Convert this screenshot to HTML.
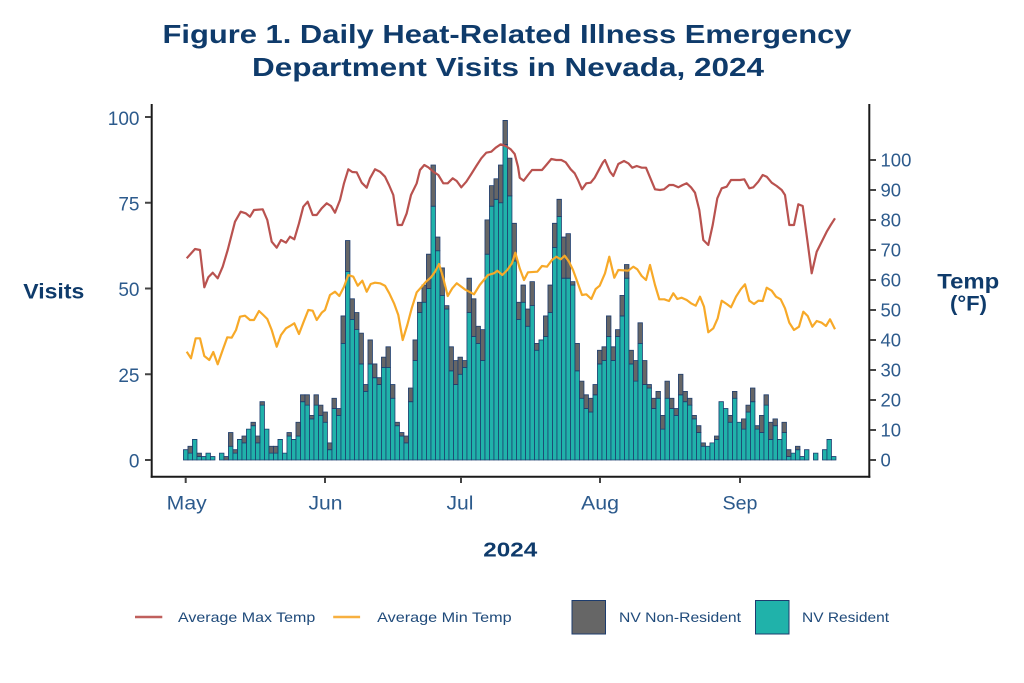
<!DOCTYPE html>
<html><head><meta charset="utf-8"><style>
html,body{margin:0;padding:0;background:#fff;}
svg{display:block;}
text{font-family:"Liberation Sans",sans-serif;}
</style></head><body>
<svg width="1024" height="683" viewBox="0 0 1024 683" xmlns="http://www.w3.org/2000/svg">
<rect width="1024" height="683" fill="#fff"/>
<!-- Title -->
<text x="507" y="43" font-size="26" font-weight="bold" fill="#0f3b6b" text-anchor="middle" textLength="689" lengthAdjust="spacingAndGlyphs">Figure 1. Daily Heat-Related Illness Emergency</text>
<text x="508" y="76" font-size="26" font-weight="bold" fill="#0f3b6b" text-anchor="middle" textLength="512" lengthAdjust="spacingAndGlyphs">Department Visits in Nevada, 2024</text>

<!-- Bars -->
<g transform="translate(183.45,460) scale(4.5,-3.43)" stroke="#1d3c6e" stroke-width="0.8" vector-effect="non-scaling-stroke">
<g fill="#20b2aa">
<rect x="0" y="0" width="1" height="3" vector-effect="non-scaling-stroke"/><rect x="1" y="0" width="1" height="2" vector-effect="non-scaling-stroke"/><rect x="2" y="0" width="1" height="6" vector-effect="non-scaling-stroke"/><rect x="3" y="0" width="1" height="1" vector-effect="non-scaling-stroke"/><rect x="4" y="0" width="1" height="1" vector-effect="non-scaling-stroke"/><rect x="5" y="0" width="1" height="2" vector-effect="non-scaling-stroke"/><rect x="6" y="0" width="1" height="1" vector-effect="non-scaling-stroke"/><rect x="8" y="0" width="1" height="2" vector-effect="non-scaling-stroke"/><rect x="10" y="0" width="1" height="4" vector-effect="non-scaling-stroke"/><rect x="11" y="0" width="1" height="2" vector-effect="non-scaling-stroke"/><rect x="12" y="0" width="1" height="6" vector-effect="non-scaling-stroke"/><rect x="13" y="0" width="1" height="5" vector-effect="non-scaling-stroke"/><rect x="14" y="0" width="1" height="9" vector-effect="non-scaling-stroke"/><rect x="15" y="0" width="1" height="10" vector-effect="non-scaling-stroke"/><rect x="16" y="0" width="1" height="5" vector-effect="non-scaling-stroke"/><rect x="17" y="0" width="1" height="16" vector-effect="non-scaling-stroke"/><rect x="18" y="0" width="1" height="9" vector-effect="non-scaling-stroke"/><rect x="19" y="0" width="1" height="2" vector-effect="non-scaling-stroke"/><rect x="20" y="0" width="1" height="2" vector-effect="non-scaling-stroke"/><rect x="21" y="0" width="1" height="6" vector-effect="non-scaling-stroke"/><rect x="22" y="0" width="1" height="2" vector-effect="non-scaling-stroke"/><rect x="23" y="0" width="1" height="7" vector-effect="non-scaling-stroke"/><rect x="24" y="0" width="1" height="6" vector-effect="non-scaling-stroke"/><rect x="25" y="0" width="1" height="7" vector-effect="non-scaling-stroke"/><rect x="26" y="0" width="1" height="17" vector-effect="non-scaling-stroke"/><rect x="27" y="0" width="1" height="16" vector-effect="non-scaling-stroke"/><rect x="28" y="0" width="1" height="12" vector-effect="non-scaling-stroke"/><rect x="29" y="0" width="1" height="16" vector-effect="non-scaling-stroke"/><rect x="30" y="0" width="1" height="13" vector-effect="non-scaling-stroke"/><rect x="31" y="0" width="1" height="11" vector-effect="non-scaling-stroke"/><rect x="32" y="0" width="1" height="3" vector-effect="non-scaling-stroke"/><rect x="33" y="0" width="1" height="15" vector-effect="non-scaling-stroke"/><rect x="34" y="0" width="1" height="13" vector-effect="non-scaling-stroke"/><rect x="35" y="0" width="1" height="34" vector-effect="non-scaling-stroke"/><rect x="36" y="0" width="1" height="55" vector-effect="non-scaling-stroke"/><rect x="37" y="0" width="1" height="41" vector-effect="non-scaling-stroke"/><rect x="38" y="0" width="1" height="38" vector-effect="non-scaling-stroke"/><rect x="39" y="0" width="1" height="28" vector-effect="non-scaling-stroke"/><rect x="40" y="0" width="1" height="20" vector-effect="non-scaling-stroke"/><rect x="41" y="0" width="1" height="28" vector-effect="non-scaling-stroke"/><rect x="42" y="0" width="1" height="24" vector-effect="non-scaling-stroke"/><rect x="43" y="0" width="1" height="22" vector-effect="non-scaling-stroke"/><rect x="44" y="0" width="1" height="27" vector-effect="non-scaling-stroke"/><rect x="45" y="0" width="1" height="27" vector-effect="non-scaling-stroke"/><rect x="46" y="0" width="1" height="18" vector-effect="non-scaling-stroke"/><rect x="47" y="0" width="1" height="10" vector-effect="non-scaling-stroke"/><rect x="48" y="0" width="1" height="7" vector-effect="non-scaling-stroke"/><rect x="49" y="0" width="1" height="5" vector-effect="non-scaling-stroke"/><rect x="50" y="0" width="1" height="17" vector-effect="non-scaling-stroke"/><rect x="51" y="0" width="1" height="29" vector-effect="non-scaling-stroke"/><rect x="52" y="0" width="1" height="43" vector-effect="non-scaling-stroke"/><rect x="53" y="0" width="1" height="46" vector-effect="non-scaling-stroke"/><rect x="54" y="0" width="1" height="50" vector-effect="non-scaling-stroke"/><rect x="55" y="0" width="1" height="74" vector-effect="non-scaling-stroke"/><rect x="56" y="0" width="1" height="61" vector-effect="non-scaling-stroke"/><rect x="57" y="0" width="1" height="48" vector-effect="non-scaling-stroke"/><rect x="58" y="0" width="1" height="44" vector-effect="non-scaling-stroke"/><rect x="59" y="0" width="1" height="26" vector-effect="non-scaling-stroke"/><rect x="60" y="0" width="1" height="22" vector-effect="non-scaling-stroke"/><rect x="61" y="0" width="1" height="25" vector-effect="non-scaling-stroke"/><rect x="62" y="0" width="1" height="27" vector-effect="non-scaling-stroke"/><rect x="63" y="0" width="1" height="43" vector-effect="non-scaling-stroke"/><rect x="64" y="0" width="1" height="36" vector-effect="non-scaling-stroke"/><rect x="65" y="0" width="1" height="34" vector-effect="non-scaling-stroke"/><rect x="66" y="0" width="1" height="29" vector-effect="non-scaling-stroke"/><rect x="67" y="0" width="1" height="60" vector-effect="non-scaling-stroke"/><rect x="68" y="0" width="1" height="74" vector-effect="non-scaling-stroke"/><rect x="69" y="0" width="1" height="76" vector-effect="non-scaling-stroke"/><rect x="70" y="0" width="1" height="75" vector-effect="non-scaling-stroke"/><rect x="71" y="0" width="1" height="92" vector-effect="non-scaling-stroke"/><rect x="72" y="0" width="1" height="77" vector-effect="non-scaling-stroke"/><rect x="73" y="0" width="1" height="58" vector-effect="non-scaling-stroke"/><rect x="74" y="0" width="1" height="41" vector-effect="non-scaling-stroke"/><rect x="75" y="0" width="1" height="46" vector-effect="non-scaling-stroke"/><rect x="76" y="0" width="1" height="39" vector-effect="non-scaling-stroke"/><rect x="77" y="0" width="1" height="45" vector-effect="non-scaling-stroke"/><rect x="78" y="0" width="1" height="32" vector-effect="non-scaling-stroke"/><rect x="79" y="0" width="1" height="35" vector-effect="non-scaling-stroke"/><rect x="80" y="0" width="1" height="36" vector-effect="non-scaling-stroke"/><rect x="81" y="0" width="1" height="43" vector-effect="non-scaling-stroke"/><rect x="82" y="0" width="1" height="62" vector-effect="non-scaling-stroke"/><rect x="83" y="0" width="1" height="71" vector-effect="non-scaling-stroke"/><rect x="84" y="0" width="1" height="53" vector-effect="non-scaling-stroke"/><rect x="85" y="0" width="1" height="53" vector-effect="non-scaling-stroke"/><rect x="86" y="0" width="1" height="51" vector-effect="non-scaling-stroke"/><rect x="87" y="0" width="1" height="26" vector-effect="non-scaling-stroke"/><rect x="88" y="0" width="1" height="18" vector-effect="non-scaling-stroke"/><rect x="89" y="0" width="1" height="15" vector-effect="non-scaling-stroke"/><rect x="90" y="0" width="1" height="14" vector-effect="non-scaling-stroke"/><rect x="91" y="0" width="1" height="19" vector-effect="non-scaling-stroke"/><rect x="92" y="0" width="1" height="28" vector-effect="non-scaling-stroke"/><rect x="93" y="0" width="1" height="29" vector-effect="non-scaling-stroke"/><rect x="94" y="0" width="1" height="36" vector-effect="non-scaling-stroke"/><rect x="95" y="0" width="1" height="29" vector-effect="non-scaling-stroke"/><rect x="96" y="0" width="1" height="36" vector-effect="non-scaling-stroke"/><rect x="97" y="0" width="1" height="42" vector-effect="non-scaling-stroke"/><rect x="98" y="0" width="1" height="53" vector-effect="non-scaling-stroke"/><rect x="99" y="0" width="1" height="28" vector-effect="non-scaling-stroke"/><rect x="100" y="0" width="1" height="23" vector-effect="non-scaling-stroke"/><rect x="101" y="0" width="1" height="34" vector-effect="non-scaling-stroke"/><rect x="102" y="0" width="1" height="22" vector-effect="non-scaling-stroke"/><rect x="103" y="0" width="1" height="21" vector-effect="non-scaling-stroke"/><rect x="104" y="0" width="1" height="15" vector-effect="non-scaling-stroke"/><rect x="105" y="0" width="1" height="18" vector-effect="non-scaling-stroke"/><rect x="106" y="0" width="1" height="9" vector-effect="non-scaling-stroke"/><rect x="107" y="0" width="1" height="18" vector-effect="non-scaling-stroke"/><rect x="108" y="0" width="1" height="15" vector-effect="non-scaling-stroke"/><rect x="109" y="0" width="1" height="13" vector-effect="non-scaling-stroke"/><rect x="110" y="0" width="1" height="19" vector-effect="non-scaling-stroke"/><rect x="111" y="0" width="1" height="17" vector-effect="non-scaling-stroke"/><rect x="112" y="0" width="1" height="16" vector-effect="non-scaling-stroke"/><rect x="113" y="0" width="1" height="12" vector-effect="non-scaling-stroke"/><rect x="114" y="0" width="1" height="8" vector-effect="non-scaling-stroke"/><rect x="115" y="0" width="1" height="4" vector-effect="non-scaling-stroke"/><rect x="116" y="0" width="1" height="4" vector-effect="non-scaling-stroke"/><rect x="117" y="0" width="1" height="5" vector-effect="non-scaling-stroke"/><rect x="118" y="0" width="1" height="6" vector-effect="non-scaling-stroke"/><rect x="119" y="0" width="1" height="17" vector-effect="non-scaling-stroke"/><rect x="120" y="0" width="1" height="15" vector-effect="non-scaling-stroke"/><rect x="121" y="0" width="1" height="11" vector-effect="non-scaling-stroke"/><rect x="122" y="0" width="1" height="18" vector-effect="non-scaling-stroke"/><rect x="123" y="0" width="1" height="11" vector-effect="non-scaling-stroke"/><rect x="124" y="0" width="1" height="9" vector-effect="non-scaling-stroke"/><rect x="125" y="0" width="1" height="14" vector-effect="non-scaling-stroke"/><rect x="126" y="0" width="1" height="17" vector-effect="non-scaling-stroke"/><rect x="127" y="0" width="1" height="9" vector-effect="non-scaling-stroke"/><rect x="128" y="0" width="1" height="8" vector-effect="non-scaling-stroke"/><rect x="129" y="0" width="1" height="16" vector-effect="non-scaling-stroke"/><rect x="130" y="0" width="1" height="6" vector-effect="non-scaling-stroke"/><rect x="131" y="0" width="1" height="10" vector-effect="non-scaling-stroke"/><rect x="132" y="0" width="1" height="6" vector-effect="non-scaling-stroke"/><rect x="133" y="0" width="1" height="8" vector-effect="non-scaling-stroke"/><rect x="134" y="0" width="1" height="1" vector-effect="non-scaling-stroke"/><rect x="135" y="0" width="1" height="2" vector-effect="non-scaling-stroke"/><rect x="136" y="0" width="1" height="3" vector-effect="non-scaling-stroke"/><rect x="137" y="0" width="1" height="1" vector-effect="non-scaling-stroke"/><rect x="138" y="0" width="1" height="3" vector-effect="non-scaling-stroke"/><rect x="140" y="0" width="1" height="2" vector-effect="non-scaling-stroke"/><rect x="142" y="0" width="1" height="3" vector-effect="non-scaling-stroke"/><rect x="143" y="0" width="1" height="6" vector-effect="non-scaling-stroke"/><rect x="144" y="0" width="1" height="1" vector-effect="non-scaling-stroke"/>
</g>
<g fill="#666666">
<rect x="1" y="2" width="1" height="2" vector-effect="non-scaling-stroke"/><rect x="3" y="1" width="1" height="1" vector-effect="non-scaling-stroke"/><rect x="9" y="0" width="1" height="1" vector-effect="non-scaling-stroke"/><rect x="10" y="4" width="1" height="4" vector-effect="non-scaling-stroke"/><rect x="11" y="2" width="1" height="1" vector-effect="non-scaling-stroke"/><rect x="13" y="5" width="1" height="2" vector-effect="non-scaling-stroke"/><rect x="15" y="10" width="1" height="1" vector-effect="non-scaling-stroke"/><rect x="16" y="5" width="1" height="2" vector-effect="non-scaling-stroke"/><rect x="17" y="16" width="1" height="1" vector-effect="non-scaling-stroke"/><rect x="19" y="2" width="1" height="2" vector-effect="non-scaling-stroke"/><rect x="20" y="2" width="1" height="2" vector-effect="non-scaling-stroke"/><rect x="23" y="7" width="1" height="1" vector-effect="non-scaling-stroke"/><rect x="25" y="7" width="1" height="4" vector-effect="non-scaling-stroke"/><rect x="26" y="17" width="1" height="2" vector-effect="non-scaling-stroke"/><rect x="27" y="16" width="1" height="3" vector-effect="non-scaling-stroke"/><rect x="28" y="12" width="1" height="1" vector-effect="non-scaling-stroke"/><rect x="29" y="16" width="1" height="3" vector-effect="non-scaling-stroke"/><rect x="30" y="13" width="1" height="3" vector-effect="non-scaling-stroke"/><rect x="31" y="11" width="1" height="3" vector-effect="non-scaling-stroke"/><rect x="32" y="3" width="1" height="2" vector-effect="non-scaling-stroke"/><rect x="33" y="15" width="1" height="3" vector-effect="non-scaling-stroke"/><rect x="34" y="13" width="1" height="2" vector-effect="non-scaling-stroke"/><rect x="35" y="34" width="1" height="8" vector-effect="non-scaling-stroke"/><rect x="36" y="55" width="1" height="9" vector-effect="non-scaling-stroke"/><rect x="37" y="41" width="1" height="6" vector-effect="non-scaling-stroke"/><rect x="38" y="38" width="1" height="5" vector-effect="non-scaling-stroke"/><rect x="39" y="28" width="1" height="9" vector-effect="non-scaling-stroke"/><rect x="40" y="20" width="1" height="2" vector-effect="non-scaling-stroke"/><rect x="41" y="28" width="1" height="7" vector-effect="non-scaling-stroke"/><rect x="42" y="24" width="1" height="4" vector-effect="non-scaling-stroke"/><rect x="43" y="22" width="1" height="2" vector-effect="non-scaling-stroke"/><rect x="44" y="27" width="1" height="3" vector-effect="non-scaling-stroke"/><rect x="45" y="27" width="1" height="6" vector-effect="non-scaling-stroke"/><rect x="46" y="18" width="1" height="4" vector-effect="non-scaling-stroke"/><rect x="47" y="10" width="1" height="1" vector-effect="non-scaling-stroke"/><rect x="48" y="7" width="1" height="1" vector-effect="non-scaling-stroke"/><rect x="49" y="5" width="1" height="2" vector-effect="non-scaling-stroke"/><rect x="50" y="17" width="1" height="4" vector-effect="non-scaling-stroke"/><rect x="51" y="29" width="1" height="6" vector-effect="non-scaling-stroke"/><rect x="52" y="43" width="1" height="3" vector-effect="non-scaling-stroke"/><rect x="53" y="46" width="1" height="5" vector-effect="non-scaling-stroke"/><rect x="54" y="50" width="1" height="10" vector-effect="non-scaling-stroke"/><rect x="55" y="74" width="1" height="12" vector-effect="non-scaling-stroke"/><rect x="56" y="61" width="1" height="4" vector-effect="non-scaling-stroke"/><rect x="57" y="48" width="1" height="8" vector-effect="non-scaling-stroke"/><rect x="58" y="44" width="1" height="1" vector-effect="non-scaling-stroke"/><rect x="59" y="26" width="1" height="7" vector-effect="non-scaling-stroke"/><rect x="60" y="22" width="1" height="7" vector-effect="non-scaling-stroke"/><rect x="61" y="25" width="1" height="5" vector-effect="non-scaling-stroke"/><rect x="62" y="27" width="1" height="2" vector-effect="non-scaling-stroke"/><rect x="63" y="43" width="1" height="10" vector-effect="non-scaling-stroke"/><rect x="64" y="36" width="1" height="11" vector-effect="non-scaling-stroke"/><rect x="65" y="34" width="1" height="5" vector-effect="non-scaling-stroke"/><rect x="66" y="29" width="1" height="9" vector-effect="non-scaling-stroke"/><rect x="67" y="60" width="1" height="10" vector-effect="non-scaling-stroke"/><rect x="68" y="74" width="1" height="6" vector-effect="non-scaling-stroke"/><rect x="69" y="76" width="1" height="6" vector-effect="non-scaling-stroke"/><rect x="70" y="75" width="1" height="11" vector-effect="non-scaling-stroke"/><rect x="71" y="92" width="1" height="7" vector-effect="non-scaling-stroke"/><rect x="72" y="77" width="1" height="11" vector-effect="non-scaling-stroke"/><rect x="73" y="58" width="1" height="11" vector-effect="non-scaling-stroke"/><rect x="74" y="41" width="1" height="5" vector-effect="non-scaling-stroke"/><rect x="75" y="46" width="1" height="5" vector-effect="non-scaling-stroke"/><rect x="76" y="39" width="1" height="5" vector-effect="non-scaling-stroke"/><rect x="77" y="45" width="1" height="7" vector-effect="non-scaling-stroke"/><rect x="78" y="32" width="1" height="2" vector-effect="non-scaling-stroke"/><rect x="80" y="36" width="1" height="6" vector-effect="non-scaling-stroke"/><rect x="81" y="43" width="1" height="8" vector-effect="non-scaling-stroke"/><rect x="82" y="62" width="1" height="7" vector-effect="non-scaling-stroke"/><rect x="83" y="71" width="1" height="5" vector-effect="non-scaling-stroke"/><rect x="84" y="53" width="1" height="12" vector-effect="non-scaling-stroke"/><rect x="85" y="53" width="1" height="13" vector-effect="non-scaling-stroke"/><rect x="86" y="51" width="1" height="1" vector-effect="non-scaling-stroke"/><rect x="87" y="26" width="1" height="8" vector-effect="non-scaling-stroke"/><rect x="88" y="18" width="1" height="5" vector-effect="non-scaling-stroke"/><rect x="89" y="15" width="1" height="4" vector-effect="non-scaling-stroke"/><rect x="90" y="14" width="1" height="4" vector-effect="non-scaling-stroke"/><rect x="91" y="19" width="1" height="3" vector-effect="non-scaling-stroke"/><rect x="92" y="28" width="1" height="4" vector-effect="non-scaling-stroke"/><rect x="93" y="29" width="1" height="4" vector-effect="non-scaling-stroke"/><rect x="94" y="36" width="1" height="6" vector-effect="non-scaling-stroke"/><rect x="95" y="29" width="1" height="4" vector-effect="non-scaling-stroke"/><rect x="96" y="36" width="1" height="2" vector-effect="non-scaling-stroke"/><rect x="97" y="42" width="1" height="6" vector-effect="non-scaling-stroke"/><rect x="98" y="53" width="1" height="4" vector-effect="non-scaling-stroke"/><rect x="99" y="28" width="1" height="4" vector-effect="non-scaling-stroke"/><rect x="100" y="23" width="1" height="6" vector-effect="non-scaling-stroke"/><rect x="101" y="34" width="1" height="6" vector-effect="non-scaling-stroke"/><rect x="102" y="22" width="1" height="7" vector-effect="non-scaling-stroke"/><rect x="103" y="21" width="1" height="1" vector-effect="non-scaling-stroke"/><rect x="104" y="15" width="1" height="3" vector-effect="non-scaling-stroke"/><rect x="105" y="18" width="1" height="2" vector-effect="non-scaling-stroke"/><rect x="106" y="9" width="1" height="4" vector-effect="non-scaling-stroke"/><rect x="107" y="18" width="1" height="5" vector-effect="non-scaling-stroke"/><rect x="108" y="15" width="1" height="3" vector-effect="non-scaling-stroke"/><rect x="109" y="13" width="1" height="2" vector-effect="non-scaling-stroke"/><rect x="110" y="19" width="1" height="6" vector-effect="non-scaling-stroke"/><rect x="111" y="17" width="1" height="3" vector-effect="non-scaling-stroke"/><rect x="112" y="16" width="1" height="2" vector-effect="non-scaling-stroke"/><rect x="113" y="12" width="1" height="1" vector-effect="non-scaling-stroke"/><rect x="114" y="8" width="1" height="2" vector-effect="non-scaling-stroke"/><rect x="115" y="4" width="1" height="1" vector-effect="non-scaling-stroke"/><rect x="118" y="6" width="1" height="1" vector-effect="non-scaling-stroke"/><rect x="121" y="11" width="1" height="2" vector-effect="non-scaling-stroke"/><rect x="122" y="18" width="1" height="2" vector-effect="non-scaling-stroke"/><rect x="124" y="9" width="1" height="3" vector-effect="non-scaling-stroke"/><rect x="125" y="14" width="1" height="2" vector-effect="non-scaling-stroke"/><rect x="126" y="17" width="1" height="4" vector-effect="non-scaling-stroke"/><rect x="127" y="9" width="1" height="1" vector-effect="non-scaling-stroke"/><rect x="128" y="8" width="1" height="5" vector-effect="non-scaling-stroke"/><rect x="129" y="16" width="1" height="3" vector-effect="non-scaling-stroke"/><rect x="130" y="6" width="1" height="5" vector-effect="non-scaling-stroke"/><rect x="131" y="10" width="1" height="2" vector-effect="non-scaling-stroke"/><rect x="133" y="8" width="1" height="3" vector-effect="non-scaling-stroke"/><rect x="134" y="1" width="1" height="2" vector-effect="non-scaling-stroke"/><rect x="136" y="3" width="1" height="1" vector-effect="non-scaling-stroke"/>
</g>
</g>

<!-- Temperature lines -->
<polyline fill="none" stroke="#b9524f" stroke-width="2.2" stroke-linejoin="round" points="186.7,258.3 195,249 200,250 204.3,287.3 208.3,277.3 212.7,272.7 217.7,278.3 222.7,266.7 227.7,250 235,221.7 240.7,211.7 245.7,213.3 250,216.7 254,210 262.7,209.3 267.3,220 271.7,241.7 276.7,247.7 281,240 286,242.7 290,236.7 294.3,239.3 299,223.3 303.3,206.7 307.7,201.7 312.7,215 316.7,215 321.7,208.3 326.7,203.3 331,206 335,212.7 340,200 344,183.3 348.3,169.3 352.3,172 356.7,172.3 361.7,182.7 366.7,187.7 370,178.3 375,169.3 380,171.7 385,176.7 389,185 393.3,195 397.7,225 402,225 406.7,213.3 411,195 416.7,183.3 420,170 424.3,165 428.3,167.3 433.3,171.7 438.3,175 443.3,183.3 447.7,183.3 452.7,178.3 456.7,181 461.3,187.3 466.3,181.7 471.3,174 476.3,166 481.3,158.3 486.3,152.7 491.3,151.7 495.7,147.7 500.7,144.3 505.7,146 510.7,149.3 514.7,154 518,166.7 519.7,177.7 523.7,180.7 528,175 532,170 537,170 542,170 546.3,165 551.3,159 556.3,160 561.3,160 565.7,162.3 570.7,169.3 574.7,173.3 578,180 582,189.3 586.3,183.3 590.7,182.7 594.7,177.7 599.7,168.3 603,162.3 605,160 610,171.7 613.3,176 618.3,164 624,161 628.3,163.3 632.3,167.7 636.7,166 641.7,167.7 646,167.7 650,177.3 655,189.3 660,190 664,189.3 669.3,185 673.3,185 678.3,187.3 682.7,185 686.7,183.3 691,187.3 695,192.7 699.3,210 703.3,240 708.3,245 712.7,225 717.3,198.3 721.7,188.3 726.7,186.7 731,180 735,180 740,180 744.3,179.3 749.3,188.3 753.3,187.3 758.3,181.7 762.7,175 766.7,176.7 771.7,182.7 776.7,186 781.7,190 785,195 789.3,225 794,225 798.3,204.3 802.7,206 807.3,240 811.7,273.3 816.7,251.7 821.7,241.7 826.7,231.7 830.7,225 835,218.3"/>
<polyline fill="none" stroke="#f7a928" stroke-width="2.2" stroke-linejoin="round" points="186.7,351.7 191,358.3 195.7,338.3 200,338.3 204.3,356 209.3,360 213.3,352 217.7,364.3 222.7,350 227.3,337.3 231.7,337.7 236,330 240,316.7 245,315.7 250,320 254,320 259,311 263.3,315 267.3,319 271.7,330 276.7,346.7 281,335 286,328.3 290,326 294.3,323.3 299,334 303.3,322.7 308.3,310 312.7,310.7 316.7,320 321.7,312.7 325,310 330,295 335,291.7 339.3,296 344,286.7 348.3,275 353.3,276.7 357.7,285.7 362.3,280.7 366.7,291.7 370.7,284 375,282.7 380,283.3 385,285.7 389.3,293.3 394,303.3 398.3,315 402.7,340 407.3,325 411.7,308.3 416.7,292.3 421.7,286.7 426,281.7 431,277.3 435,271.7 439,264 443.3,278.3 447.7,296 452.3,288.3 456.7,283.3 464.7,289.3 474,294.3 479.7,285 488,275 494,273.3 497.3,270.7 502.3,275 507.3,270 512,263.3 515.3,252.7 519.7,268.3 524,280 528,272.3 537.3,271.7 542,266 547,266.7 552,260 556.3,256.7 560.7,259.3 564.7,255.7 569,261.7 573,270 577.3,281.7 582,295 586.3,294.3 591.3,299 595.7,289 599.7,285.7 605,273.3 609.3,256.7 614.3,277.7 618.3,270 628.3,270.7 633.3,266.7 637.3,269.3 641.7,276 646,280 650,265 655,285 659.3,299.3 664.3,299.3 669,301 673.3,293.3 677.3,299 681.7,297.7 686.7,300 691,303.3 695.7,305.7 700,296.7 704,306.7 708.3,332.3 713.3,328.3 717.7,318.3 721.7,300.7 726.7,304 731,307.3 736,296.7 740.7,289.3 745,284.3 749.3,300.7 754,304 758.3,300.7 762.7,301 766.7,287.7 771.7,290.7 776,296.7 780.7,299.3 785,308.3 789.3,322.7 794,330 799,326.7 803.3,311.7 807.7,316 812.3,326.7 816.7,321 821.7,322.7 826,326 830,319.3 835,329.3"/>

<!-- Axes -->
<g stroke="#1a1a1a" stroke-width="2" fill="none">
<line x1="151.7" y1="104" x2="151.7" y2="477.7"/>
<line x1="150.7" y1="476.7" x2="870.3" y2="476.7"/>
<line x1="869.3" y1="104" x2="869.3" y2="477.7"/>
</g>
<g stroke="#444" stroke-width="2">
<line x1="145" y1="117" x2="151" y2="117"/>
<line x1="145" y1="202.75" x2="151" y2="202.75"/>
<line x1="145" y1="288.5" x2="151" y2="288.5"/>
<line x1="145" y1="374.25" x2="151" y2="374.25"/>
<line x1="145" y1="460" x2="151" y2="460"/>
<line x1="870" y1="160" x2="876" y2="160"/>
<line x1="870" y1="190" x2="876" y2="190"/>
<line x1="870" y1="220" x2="876" y2="220"/>
<line x1="870" y1="250" x2="876" y2="250"/>
<line x1="870" y1="280" x2="876" y2="280"/>
<line x1="870" y1="310" x2="876" y2="310"/>
<line x1="870" y1="340" x2="876" y2="340"/>
<line x1="870" y1="370" x2="876" y2="370"/>
<line x1="870" y1="400" x2="876" y2="400"/>
<line x1="870" y1="430" x2="876" y2="430"/>
<line x1="870" y1="460" x2="876" y2="460"/>
<line x1="185.7" y1="477" x2="185.7" y2="483"/>
<line x1="325" y1="477" x2="325" y2="483"/>
<line x1="461" y1="477" x2="461" y2="483"/>
<line x1="600" y1="477" x2="600" y2="483"/>
<line x1="740" y1="477" x2="740" y2="483"/>
</g>

<!-- Left tick labels -->
<g font-size="19" fill="#2c5a8c" text-anchor="end">
<text x="139.5" y="125">100</text>
<text x="139.5" y="210.5">75</text>
<text x="139.5" y="296">50</text>
<text x="139.5" y="382">25</text>
<text x="139.5" y="467.5">0</text>
</g>
<!-- Right tick labels -->
<g font-size="18.5" fill="#2c5a8c">
<text x="880.5" y="166.7">100</text>
<text x="880.5" y="196.7">90</text>
<text x="880.5" y="226.7">80</text>
<text x="880.5" y="256.7">70</text>
<text x="880.5" y="286.7">60</text>
<text x="880.5" y="316.7">50</text>
<text x="880.5" y="346.7">40</text>
<text x="880.5" y="376.7">30</text>
<text x="880.5" y="406.7">20</text>
<text x="880.5" y="436.7">10</text>
<text x="880.5" y="466.7">0</text>
</g>
<!-- X tick labels -->
<g font-size="19" fill="#2c5a8c" text-anchor="middle">
<text x="186.7" y="509.3" textLength="40" lengthAdjust="spacingAndGlyphs">May</text>
<text x="325.5" y="509.3" textLength="34" lengthAdjust="spacingAndGlyphs">Jun</text>
<text x="460" y="509.3" textLength="27" lengthAdjust="spacingAndGlyphs">Jul</text>
<text x="600" y="509.3" textLength="38" lengthAdjust="spacingAndGlyphs">Aug</text>
<text x="740" y="509.3" textLength="35" lengthAdjust="spacingAndGlyphs">Sep</text>
</g>

<!-- Axis titles -->
<g font-weight="bold" fill="#0f3b6b">
<text x="23.3" y="298.3" font-size="21" textLength="61" lengthAdjust="spacingAndGlyphs">Visits</text>
<text x="937.3" y="288.3" font-size="21" textLength="62" lengthAdjust="spacingAndGlyphs">Temp</text>
<text x="950" y="310.5" font-size="21" textLength="37" lengthAdjust="spacingAndGlyphs">(°F)</text>
<text x="483.3" y="556.7" font-size="20" textLength="54" lengthAdjust="spacingAndGlyphs">2024</text>
</g>

<!-- Legend -->
<line x1="135" y1="617" x2="162.3" y2="617" stroke="#c0605d" stroke-width="2.5"/>
<line x1="333.2" y1="617" x2="360.1" y2="617" stroke="#f7b040" stroke-width="2.5"/>
<rect x="572" y="600.5" width="33.5" height="33.5" fill="#666666" stroke="#1d3c6e" stroke-width="1"/>
<rect x="755.5" y="600.5" width="33.5" height="33.5" fill="#20b2aa" stroke="#1d3c6e" stroke-width="1"/>
<g font-size="14" fill="#1f4a7a">
<text x="178" y="622" textLength="137.3" lengthAdjust="spacingAndGlyphs">Average Max Temp</text>
<text x="377.1" y="622" textLength="134.5" lengthAdjust="spacingAndGlyphs">Average Min Temp</text>
<text x="619" y="622" textLength="122" lengthAdjust="spacingAndGlyphs">NV Non-Resident</text>
<text x="802" y="622" textLength="87" lengthAdjust="spacingAndGlyphs">NV Resident</text>
</g>
</svg>
</body></html>
